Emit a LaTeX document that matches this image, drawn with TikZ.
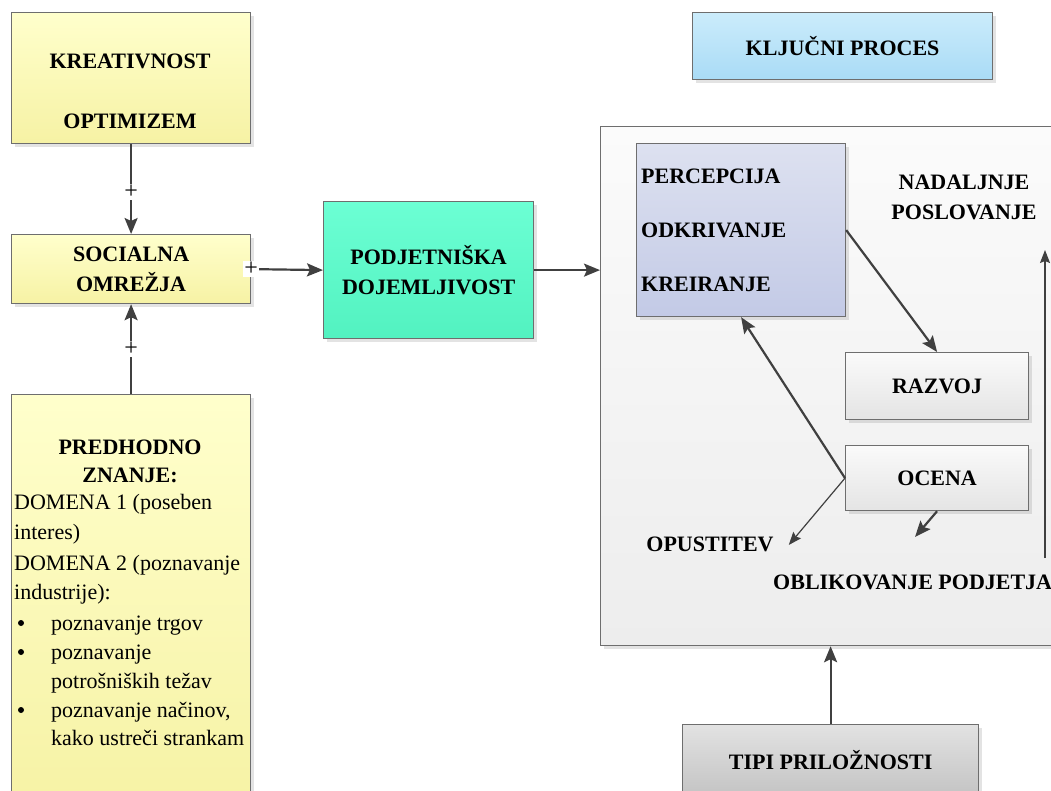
\documentclass[tikz,border=0pt]{standalone}
\usepackage{fontspec}
\setmainfont{Liberation Serif}
\usetikzlibrary{arrows.meta,shadows,calc}
\definecolor{linegray}{HTML}{404040}
\definecolor{edgegray}{HTML}{6E6E6E}
\definecolor{yeltop}{HTML}{FFFFCC}
\definecolor{yelbot}{HTML}{F6F2A4}
\definecolor{grntop}{HTML}{6CFFD4}
\definecolor{grnbot}{HTML}{52F2C0}
\definecolor{blutop}{HTML}{CBECFB}
\definecolor{blubot}{HTML}{A9DBF6}
\definecolor{lavtop}{HTML}{DDE1F0}
\definecolor{lavbot}{HTML}{C3CAE6}
\definecolor{graytop}{HTML}{E2E2E2}
\definecolor{graybot}{HTML}{C4C4C4}
\definecolor{proctop}{HTML}{FBFBFB}
\definecolor{procbot}{HTML}{EDEDED}
\definecolor{stagetop}{HTML}{FAFAFA}
\definecolor{stagebot}{HTML}{E4E4E4}
\begin{document}
\begin{tikzpicture}[x=1pt,y=-1pt,
  box/.style={draw=edgegray, line width=1.2pt, rectangle, inner sep=0pt,
    anchor=north west, align=center,
    font=\fontsize{22}{30}\selectfont\bfseries,
    drop shadow={shadow xshift=3pt, shadow yshift=-3pt, opacity=0.22}},
  yellowbox/.style={box, top color=yeltop, bottom color=yelbot},
  head/.style={inner sep=0pt, font=\fontsize{22}{30}\selectfont\bfseries, align=center},
  body/.style={inner sep=0pt, font=\fontsize{22}{29}\selectfont, anchor=base west},
  dot/.style={circle, fill=black, inner sep=0pt, minimum size=6pt},
  plus/.style={inner sep=1.5pt, fill=white, font=\fontsize{24}{24}\selectfont},
  conn/.style={draw=linegray, line width=2.2pt,
    -{Stealth[length=16pt, width=13pt, inset=3pt]}},
  thinconn/.style={draw=linegray, line width=1.2pt,
    -{Stealth[length=13pt, width=10pt, inset=2pt]}}]
\useasboundingbox (0,0) rectangle (1051,790);
\clip (0,0) rectangle (1051,790);

% left column: influencing factors
\node[yellowbox, minimum width=239pt, minimum height=131pt] (kreat) at (11,12) {};
\node[head] (kreattxt) at (130,61) {KREATIVNOST};
\node[head] (optimtxt) at (130,121) {OPTIMIZEM};

\node[yellowbox, minimum width=239pt, minimum height=69pt] (soc) at (11,234) {SOCIALNA\\OMREŽJA};

\node[yellowbox, minimum width=239pt, minimum height=420pt] (pred) at (11,394) {};
\node[head, anchor=base] (predt1) at (130,454) {PREDHODNO};
\node[head, anchor=base] (predt2) at (130,482) {ZNANJE:};
\node[body] (d1a) at (14,509) {DOMENA 1 (poseben};
\node[body] (d1b) at (14,539) {interes)};
\node[body] (d2a) at (14,570) {DOMENA 2 (poznavanje};
\node[body] (d2b) at (14,599) {industrije):};
\node[dot] (b1) at (21,623) {};
\node[body] (i1) at (51,630) {poznavanje trgov};
\node[dot] (b2) at (21,652) {};
\node[body] (i2a) at (51,659) {poznavanje};
\node[body] (i2b) at (51,688) {potrošniških težav};
\node[dot] (b3) at (21,710) {};
\node[body] (i3a) at (51,717) {poznavanje načinov,};
\node[body] (i3b) at (51,745) {kako ustreči strankam};

% middle: alertness
\node[box, top color=grntop, bottom color=grnbot,
  minimum width=210pt, minimum height=137pt] (podj) at (323,201) {PODJETNIŠKA\\DOJEMLJIVOST};

% right: key process
\node[box, top color=blutop, bottom color=blubot,
  minimum width=300pt, minimum height=67pt] (klj) at (692,12) {KLJUČNI PROCES};

\node[box, top color=proctop, bottom color=procbot,
  minimum width=480pt, minimum height=519pt] (proc) at (600,126) {};

\node[box, top color=lavtop, bottom color=lavbot,
  minimum width=209pt, minimum height=173pt] (perc) at (636,143) {};
\node[head, anchor=base west] (perct) at (641,183) {PERCEPCIJA};
\node[head, anchor=base west] (odkt) at (641,237) {ODKRIVANJE};
\node[head, anchor=base west] (kreit) at (641,291) {KREIRANJE};

\node[head] (nadalj) at (964,197.5) {NADALJNJE\\POSLOVANJE};

\node[box, top color=stagetop, bottom color=stagebot,
  minimum width=183pt, minimum height=67pt] (razvoj) at (845,352) {RAZVOJ};
\node[box, top color=stagetop, bottom color=stagebot,
  minimum width=183pt, minimum height=65pt] (ocena) at (845,445) {OCENA};

\node[head] (opus) at (710,544) {OPUSTITEV};
\node[head, anchor=west] (oblik) at (773,582) {OBLIKOVANJE PODJETJA};

\node[box, top color=graytop, bottom color=graybot,
  minimum width=296pt, minimum height=70pt] (tipi) at (682,724) {TIPI PRILOŽNOSTI};

% free ends of open connectors
\coordinate (oblend) at (915,537);
\coordinate (vbot) at (1045,558);
\coordinate (vtop) at (1045,250);

% connectors
\draw[conn] (kreat.south) -- (soc.north) node[plus, pos=0.53] (p1) {+};
\draw[conn] (pred.north) -- (soc.south) node[plus, pos=0.5] (p2) {+};
\draw[conn] (soc.east) -- (podj.west);
\node[plus, inner xsep=1pt] (p3) at (soc.east) {+};
\draw[conn] (podj.east) -- (podj.east -| proc.west);
\draw[conn] (perc.east) -- (razvoj.north);
\draw[conn] (ocena.west) -- (perc.south);
\draw[thinconn] (ocena.west) -- ([xshift=15pt,yshift=-1pt]opus.east);
\draw[conn] (ocena.south) -- (oblend);
\draw[thinconn] (vbot) -- (vtop);
\draw[conn] (tipi.north) -- (tipi.north |- proc.south);
\end{tikzpicture}
\end{document}
